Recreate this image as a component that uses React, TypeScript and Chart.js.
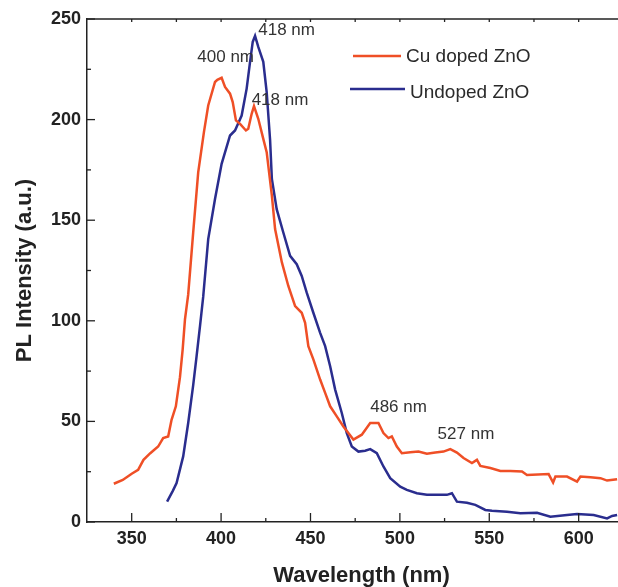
import React, { useEffect, useRef } from 'react';
import { Chart, registerables } from 'chart.js';

Chart.register(...registerables);

// ---------- data ----------
const cuWavelength = [
  340, 345, 350, 353.6, 356.6, 360.4, 364.8, 367.6, 370.4, 372.3, 374.7, 377, 378.5, 379.8, 381.6,
  384.4, 387.2, 390.4, 392.8, 396.6, 397.9, 400.3, 402.2, 405, 406.5, 408.3, 410.6, 413.9, 415.2,
  417.1, 418.4, 420.8, 423.6, 425.5, 428.4, 430.2, 434, 437.6, 441.4, 445.1, 447, 448.8,
  451.6, 455.4, 458.2, 461, 464.7, 468.4, 474, 478.7, 483.4, 488, 490.8, 493.6, 495.5, 498.3, 501.1, 505.8,
  510.4, 515.1, 519.8, 524.4, 528.2, 531.9, 535.6, 540.3, 543.1, 545, 550.6, 556.2, 561.8, 568.3,
  571.1, 583.2, 585.7, 587, 593.5, 599.1, 601, 606.6, 612.2, 615.9, 621.5,
];
const cuIntensity = [
  19, 20.9, 24, 25.9, 30.9, 34.2, 37.5, 41.7, 42.5, 50.8, 57.5, 72, 85.7, 100.7, 113,
  143.9, 173.8, 193.8, 207, 218.7, 219.8, 220.8, 216.2, 212.9, 208.7, 199.6, 197.9, 194.6, 195.4,
  202.9, 206.7, 200.4, 190.4, 183.8, 162.2, 145.6, 129, 117.3, 107.3, 104, 99, 87.4,
  80.8, 70.8, 64.2, 57.5, 52.5, 47.5, 41, 43.4, 49.2, 49.2, 44.2, 41.7, 42.5, 37.5, 34.2, 34.7,
  35, 33.9, 34.5, 35, 36.2, 34.5, 31.8, 29.3, 30.9, 27.9, 26.8, 25.4, 25.4, 25.1,
  23.4, 23.8, 19.6, 22.6, 22.6, 20.1, 22.6, 22.3, 21.8, 20.6, 21.3,
];

const undopedWavelength = [
  369.8, 373, 375.1, 378.8, 381.6, 384.4, 386.3, 388.2, 390, 392.8, 396.6, 400.3, 405, 407.8, 411.5,
  414.3, 416.2, 417.7, 419, 420.8, 423.6, 425.5, 427.4, 428.4, 431.1, 434.8, 438.6, 442.3, 445.1,
  447.9, 451.6, 455.4, 458.2, 461, 463.8, 467.5, 470.3, 473.1, 476.8, 480.6, 483.4, 487.1, 490.8, 494.6,
  500.2, 503.9, 509.5, 515.1, 526.3, 529.1, 531.9, 537.5, 542.2, 547.8, 551.5, 559.9, 567.4, 576.7,
  584.2, 593.5, 599.1, 608.4, 615.9, 618.7, 621.5,
];
const undopedIntensity = [
  10.1, 15.5, 19.3, 32.6, 49.2, 68, 82.4, 97.4, 112, 140.6, 160.5, 178, 192.1, 194.6, 202,
  215.4, 228.7, 238.6, 241.6, 236.1, 228.7, 213.7, 190, 170.5, 155.5, 143.9, 132.3, 128.1, 122.3,
  114, 104, 94, 87.4, 77.4, 65.8, 54.2, 44.2, 37.5, 35, 35.4, 36.2, 34.2, 27.6, 21.8,
  17.6, 16, 14.3, 13.5, 13.5, 14.3, 10.1, 9.6, 8.5, 6, 5.6, 5.1, 4.3, 4.6,
  2.6, 3.5, 4, 3.5, 1.8, 3, 3.5,
];

const seriesNames = ['Cu doped ZnO', 'Undoped ZnO'];
const seriesColors = ['#EF4F26', '#2A2D8E'];

const xTicks = [350, 400, 450, 500, 550, 600];
const xMinorTicks = [375, 425, 475, 525, 575];
const yTicks = [0, 50, 100, 150, 200, 250];
const yMinorTicks = [25, 75, 125, 175, 225];

const peakLabelText = ['418 nm', '400 nm', '418 nm', '486 nm', '527 nm'];
const peakLabelX = [420.8, 386.7, 417.1, 483.4, 521.1];
const peakLabelY = [244.4, 230.8, 209.4, 56.8, 43.6];

const xTitle = 'Wavelength (nm)';
const yTitle = 'PL Intensity (a.u.)';

const FONT = "'Liberation Sans', Arial, Helvetica, sans-serif";
const AXIS_COLOR = '#222222';

// ---------- plugin for frame ticks, labels, legend ----------
const decorations = {
  id: 'decorations',
  afterDraw(chart: any) {
    const { ctx, chartArea: a, scales } = chart;
    const x = scales.x;
    const y = scales.y;
    ctx.save();
    ctx.strokeStyle = AXIS_COLOR;
    ctx.lineWidth = 1.5;
    // top frame line
    ctx.beginPath();
    ctx.moveTo(a.left, a.top);
    ctx.lineTo(a.right, a.top);
    ctx.stroke();

    ctx.lineWidth = 1.3;
    const line = (x1: number, y1: number, x2: number, y2: number) => {
      ctx.beginPath();
      ctx.moveTo(x1, y1);
      ctx.lineTo(x2, y2);
      ctx.stroke();
    };
    // bottom & top ticks (inside)
    xTicks.forEach((v) => {
      const px = x.getPixelForValue(v);
      line(px, a.bottom, px, a.bottom - 9);
      line(px, a.top, px, a.top + 3);
    });
    xMinorTicks.forEach((v) => {
      const px = x.getPixelForValue(v);
      line(px, a.bottom, px, a.bottom - 4);
      line(px, a.top, px, a.top + 3);
    });
    // left ticks (inside)
    yTicks.forEach((v) => {
      const py = y.getPixelForValue(v);
      line(a.left, py, a.left + 8, py);
    });
    yMinorTicks.forEach((v) => {
      const py = y.getPixelForValue(v);
      line(a.left, py, a.left + 4, py);
    });

    // peak annotations
    ctx.fillStyle = '#333333';
    ctx.font = `17px ${FONT}`;
    ctx.textAlign = 'left';
    ctx.textBaseline = 'middle';
    peakLabelText.forEach((t, i) => {
      ctx.fillText(t, x.getPixelForValue(peakLabelX[i]), y.getPixelForValue(peakLabelY[i]));
    });

    // legend
    ctx.lineWidth = 2.5;
    ctx.font = `19px ${FONT}`;
    const legendRows = [
      { x1: a.left + 266, x2: a.left + 314, ly: a.top + 37, tx: a.left + 319, ty: a.top + 37.5 },
      { x1: a.left + 263, x2: a.left + 318, ly: a.top + 70, tx: a.left + 323, ty: a.top + 73.5 },
    ];
    legendRows.forEach((r, i) => {
      ctx.strokeStyle = seriesColors[i];
      line(r.x1, r.ly, r.x2, r.ly);
      ctx.fillStyle = '#2a2a2a';
      ctx.fillText(seriesNames[i], r.tx, r.ty);
    });

    // x axis title
    ctx.fillStyle = AXIS_COLOR;
    ctx.font = `bold 22px ${FONT}`;
    ctx.textAlign = 'center';
    ctx.textBaseline = 'middle';
    ctx.fillText(xTitle, a.left + 274.5, a.bottom + 54);
    ctx.restore();
  },
};

export default function App() {
  const canvasRef = useRef<HTMLCanvasElement | null>(null);

  useEffect(() => {
    const canvas = canvasRef.current;
    if (!canvas) return;
    const chart = new Chart(canvas, {
      type: 'line',
      data: {
        datasets: [
          {
            label: seriesNames[0],
            data: cuWavelength.map((w, i) => ({ x: w, y: cuIntensity[i] })),
            borderColor: seriesColors[0],
            backgroundColor: seriesColors[0],
            borderWidth: 2.5,
            pointRadius: 0,
            tension: 0,
            fill: false,
          },
          {
            label: seriesNames[1],
            data: undopedWavelength.map((w, i) => ({ x: w, y: undopedIntensity[i] })),
            borderColor: seriesColors[1],
            backgroundColor: seriesColors[1],
            borderWidth: 2.5,
            pointRadius: 0,
            tension: 0,
            fill: false,
          },
        ],
      },
      options: {
        animation: false,
        responsive: false,
        devicePixelRatio: 1,
        layout: { padding: { top: 19, right: 0, left: 0, bottom: 0 } },
        plugins: {
          legend: { display: false },
          tooltip: { enabled: false },
        },
        scales: {
          x: {
            type: 'linear',
            min: 325,
            max: 622,
            afterBuildTicks: (s: any) => {
              s.ticks = xTicks.map((value) => ({ value }));
            },
            afterFit: (s: any) => {
              s.height = 65;
            },
            grid: { display: false, drawTicks: false },
            border: { display: true, color: AXIS_COLOR, width: 1.5 },
            ticks: {
              color: AXIS_COLOR,
              padding: 6,
              maxRotation: 0,
              autoSkip: false,
              font: { family: FONT, size: 18, weight: 'bold' },
            },
          },
          y: {
            type: 'linear',
            min: 0,
            max: 250,
            afterBuildTicks: (s: any) => {
              s.ticks = yTicks.map((value) => ({ value }));
            },
            afterFit: (s: any) => {
              s.width = 87;
            },
            grid: { display: false, drawTicks: false },
            border: { display: true, color: AXIS_COLOR, width: 1.5 },
            ticks: {
              color: AXIS_COLOR,
              padding: 6,
              font: { family: FONT, size: 18, weight: 'bold' },
            },
            title: {
              display: true,
              text: yTitle,
              color: AXIS_COLOR,
              font: { family: FONT, size: 22, weight: 'bold', lineHeight: 1.2 },
              padding: { top: 12, bottom: 0 },
            },
          },
        },
      } as any,
      plugins: [decorations],
    });
    return () => chart.destroy();
  }, []);

  return (
    <div style={{ position: 'absolute', left: 0, top: 0, width: 618, height: 587, background: '#fff' }}>
      <canvas ref={canvasRef} width={618} height={587} style={{ display: 'block' }} />
    </div>
  );
}
